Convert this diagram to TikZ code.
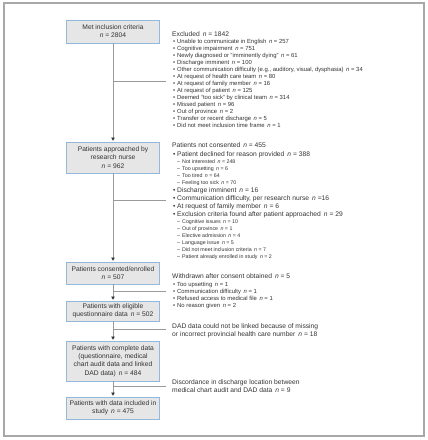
\documentclass[tikz,border=0pt]{standalone}
\usepackage{fontspec}
\setmainfont{Liberation Sans}
\usetikzlibrary{arrows.meta}
\definecolor{boxfill}{HTML}{E6E6E6}
\definecolor{boxline}{HTML}{94B8DB}
\definecolor{linegray}{HTML}{9A9A9A}
\definecolor{framegray}{HTML}{A8A8A8}
\definecolor{txt}{HTML}{333333}
\newcommand{\ncount}[1]{\hspace{0.45em}\textit{n} = #1}
\newcommand{\bul}{\makebox[4pt][l]{•}}
\newcommand{\dsh}{\makebox[5pt][l]{–}}
\begin{document}
\begin{tikzpicture}[x=1pt,y=-1pt,
  flowbox/.style={draw=boxline, line width=0.9pt, fill=boxfill, minimum width=93.5pt,
    align=center, text=txt, font=\fontsize{6.7}{8.2}\selectfont, inner sep=1pt},
  hdr/.style={anchor=base west, inner sep=0pt, text=txt, font=\fontsize{6.7}{8}\selectfont},
  itemA/.style={anchor=base west, inner sep=0pt, text=txt, font=\fontsize{5.9}{7}\selectfont},
  itemB/.style={anchor=base west, inner sep=0pt, text=txt, font=\fontsize{6.7}{8}\selectfont},
  subitem/.style={anchor=base west, inner sep=0pt, text=txt, font=\fontsize{5.3}{6}\selectfont},
  conn/.style={draw=linegray, line width=0.8pt},
  flowarrow/.style={conn, -{Triangle[length=3.2pt,width=3.4pt,color=black!80]}, shorten >=0.8pt}
]
\useasboundingbox (0,0) rectangle (428,440);
\draw[framegray, line width=1.2pt] (4,3) rectangle (424,436);

% boxes
\node[flowbox, minimum height=23pt] (b1) at (113,31.5) {Met inclusion criteria\\\textit{n} = 2804};
\node[flowbox, minimum height=31pt] (b2) at (113,157.5) {Patients approached by\\research nurse\\\textit{n} = 962};
\node[flowbox, minimum height=22pt] (b3) at (113,273) {Patients consented/enrolled\\\textit{n} = 507};
\node[flowbox, minimum height=20pt] (b4) at (113,311) {Patients with eligible\\questionnaire data\ncount{502}};
\node[flowbox, minimum height=40pt] (b5) at (113,361) {Patients with complete data\\(questionnaire, medical\\chart audit data and linked\\DAD data)\ncount{484}};
\node[flowbox, minimum height=22pt] (b6) at (113,408) {Patients with data included in\\study\ncount{475}};

% spine arrows
\draw[flowarrow] (b1) -- (b2);
\draw[flowarrow] (b2) -- (b3);
\draw[flowarrow] (b3) -- (b4);
\draw[flowarrow] (b4) -- (b5);
\draw[flowarrow] (b5) -- (b6);

% branches
\coordinate (s1) at (113,81);  \coordinate (e1) at (166,81);
\coordinate (s2) at (113,200); \coordinate (e2) at (166,200);
\coordinate (s3) at (113,291); \coordinate (e3) at (166,291);
\coordinate (s4) at (113,329); \coordinate (e4) at (166,329);
\coordinate (s5) at (113,386); \coordinate (e5) at (166,386);
\foreach \k in {1,...,5} \draw[conn] (s\k) -- (e\k);

% group 1
\node[hdr] (h1) at (172,36) {Excluded\ncount{1842}};
\foreach \t [count=\i] in {
  {Unable to communicate in English\ncount{257}},
  {Cognitive impairment\ncount{751}},
  {Newly diagnosed or “imminently dying”\ncount{61}},
  {Discharge imminent\ncount{100}},
  {Other communication difficulty (e.g., auditory, visual, dysphasia)\ncount{34}},
  {At request of health care team\ncount{80}},
  {At request of family member\ncount{16}},
  {At request of patient\ncount{125}},
  {Deemed “too sick” by clinical team\ncount{314}},
  {Missed patient\ncount{96}},
  {Out of province\ncount{2}},
  {Transfer or recent discharge\ncount{5}},
  {Did not meet inclusion time frame\ncount{1}}}
  \node[itemA] (ga\i) at (173,{43.8+7*(\i-1)}) {\bul\t};

% group 2
\node[hdr] (h2) at (172,147.5) {Patients not consented\ncount{455}};
\node[itemB] (gb1) at (173,156.5) {\bul Patient declined for reason provided\ncount{388}};
\foreach \t [count=\i] in {
  {Not interested\ncount{248}},
  {Too upsetting\ncount{6}},
  {Too tired\ncount{64}},
  {Feeling too sick\ncount{70}}}
  \node[subitem] (gs\i) at (177,{163.5+7*(\i-1)}) {\dsh\t};
\node[itemB] (gb2) at (173,192.5) {\bul Discharge imminent\ncount{16}};
\node[itemB] (gb3) at (173,200.5) {\bul Communication difficulty, per research nurse\hspace{0.45em}\textit{n} =16};
\node[itemB] (gb4) at (173,208.5) {\bul At request of family member\ncount{6}};
\node[itemB] (gb5) at (173,216.5) {\bul Exclusion criteria found after patient approached\ncount{29}};
\foreach \t [count=\i] in {
  {Cognitive issues\ncount{10}},
  {Out of province\ncount{1}},
  {Elective admission\ncount{4}},
  {Language issue\ncount{5}},
  {Did not meet inclusion criteria\ncount{7}},
  {Patient already enrolled in study\ncount{2}}}
  \node[subitem] (gt\i) at (177,{223.5+7*(\i-1)}) {\dsh\t};

% group 3
\node[hdr] (h3) at (172,278.5) {Withdrawn after consent obtained\ncount{5}};
\foreach \t [count=\i] in {
  {Too upsetting\ncount{1}},
  {Communication difficulty\ncount{1}},
  {Refused access to medical file\ncount{1}},
  {No reason given\ncount{2}}}
  \node[itemA] (gc\i) at (173,{286+7*(\i-1)}) {\bul\t};

% DAD
\node[hdr] (d1) at (172,328.5) {DAD data could not be linked because of missing};
\node[hdr] (d2) at (172,336) {or incorrect provincial health care number\ncount{18}};

% discordance
\node[hdr] (c1) at (172,384.5) {Discordance in discharge location between};
\node[hdr] (c2) at (172,392.5) {medical chart audit and DAD data\ncount{9}};
\end{tikzpicture}
\end{document}
